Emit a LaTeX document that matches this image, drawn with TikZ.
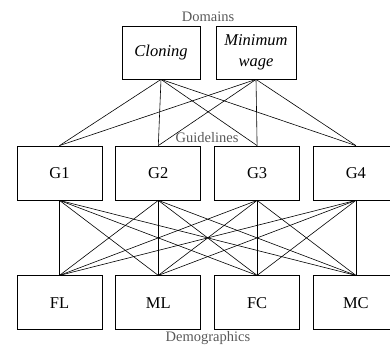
\documentclass[tikz,border=0pt]{standalone}
\usepackage{fontspec}
\setmainfont{Liberation Serif}
\usetikzlibrary{positioning}
\tikzset{
  box/.style={draw, line width=0.8pt, minimum width=85pt, minimum height=54pt,
    inner sep=2pt, align=center, font=\fontsize{16.5}{21}\selectfont},
  domainbox/.style={box, minimum height=53pt, font=\fontsize{16.5}{21}\selectfont\itshape},
  grouplabel/.style={text=black!65, inner sep=0pt, anchor=base, font=\fontsize{14.5}{17}\selectfont},
  link/.style={line width=0.6pt}
}

\begin{document}
\begin{tikzpicture}[x=1pt,y=1pt]
  \useasboundingbox (0,0) rectangle (390,-347);
  % Domains
  \node[domainbox, minimum width=78pt] (clon) at (161,-52.5) {Cloning};
  \node[domainbox, minimum width=80pt] (wage) at (256,-52.5) {Minimum\\wage};
  \node[grouplabel] (domlab) at (208,-21.7) {Domains};
  % Guidelines
  \node[box] (g1) at (59.5,-173) {G1};
  \node[box, right=13pt of g1] (g2) {G2};
  \node[box, right=13pt of g2] (g3) {G3};
  \node[box, right=13pt of g3] (g4) {G4};
  \node[grouplabel] (guilab) at (207,-143) {Guidelines};
  % Demographics
  \node[box, below=75pt of g1] (fl) {FL};
  \node[box, below=75pt of g2] (ml) {ML};
  \node[box, below=75pt of g3] (fc) {FC};
  \node[box, below=75pt of g4] (mc) {MC};
  \node[grouplabel] (demlab) at (208,-341.5) {Demographics};
  % every domain to every guideline
  \foreach \d in {clon,wage}
    \foreach \g in {g1,g2,g3,g4}
      \draw[link] (\d.south) -- (\g.north);
  % every guideline to every group
  \foreach \g in {g1,g2,g3,g4}
    \foreach \p in {fl,ml,fc,mc}
      \draw[link] (\g.south) -- (\p.north);
\end{tikzpicture}
\end{document}
